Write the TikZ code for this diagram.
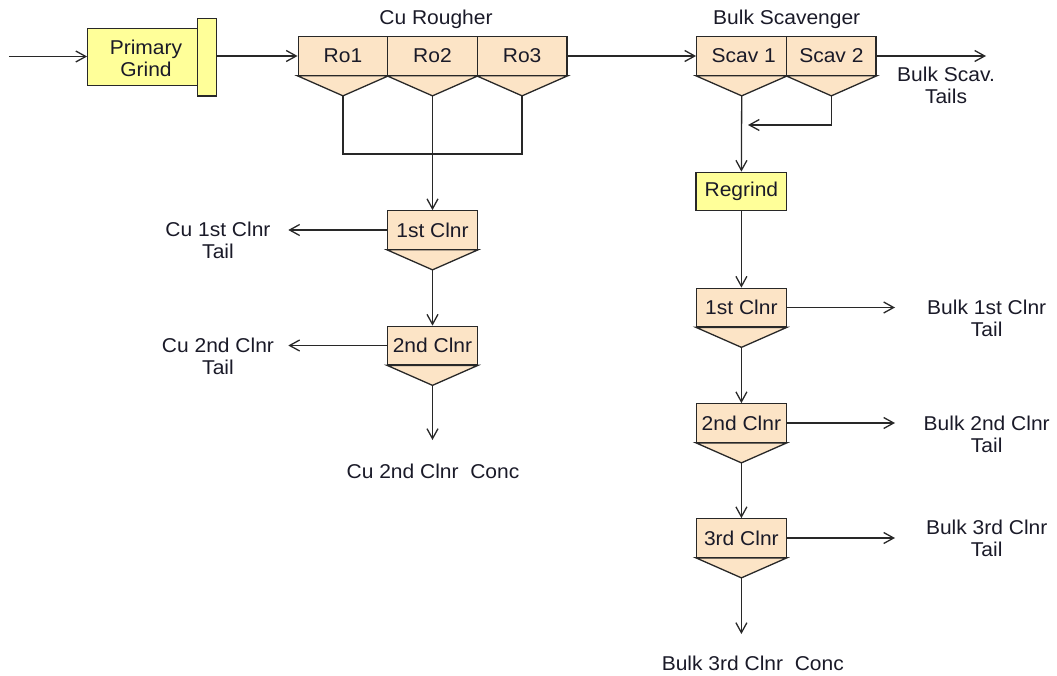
\documentclass[tikz,border=0pt]{standalone}
\usepackage{fontspec}
\setmainfont{Liberation Sans}[FakeStretch=1.05]
\usetikzlibrary{arrows.meta,calc}

\definecolor{cellpeach}{RGB}{252,228,198}
\definecolor{millyellow}{RGB}{255,255,153}
\definecolor{inkline}{RGB}{40,40,40}
\definecolor{inktext}{RGB}{26,26,40}

\tikzset{
  unit/.style={draw=inkline, line width=1.3pt, inner sep=0pt, text=inktext},
  cellbox/.style={unit, fill=cellpeach, minimum width=89.6pt, minimum height=38.4pt},
  millbox/.style={unit, fill=millyellow},
  cellcone/.style={draw=inkline, line width=1.3pt, fill=cellpeach, line join=miter},
  pipe/.style={draw=inkline, line width=1.3pt},
  flow/.style={pipe, -{Straight Barb[length=10pt,width=11pt,line width=1.3pt]}},
  lbl/.style={text=inktext, inner sep=0pt, align=center},
}

% flotation cell: a box with a conical bottom; tip coordinate is <name>t
\newcommand\flotcell[4]{%
  \node[cellbox] (#1) at (#2,#3) {#4};
  \coordinate (#1t) at ($(#1.south)+(0,20)$);
  \filldraw[cellcone] (#1.south west) -- (#1t) -- (#1.south east) -- cycle;
}

\begin{document}
\begin{tikzpicture}[x=1pt,y=-1pt,font=\fontsize{20}{22}\selectfont]
\useasboundingbox (0,0) rectangle (1057,676);

% ---------- primary grinding ----------
\node[millbox, minimum width=109.5pt, minimum height=57pt] (pg) at (142.5,56.8) {};
\node[lbl] (pglbl) at (146,58) {Primary\\Grind};
\node[millbox, minimum width=19.2pt, minimum height=77.7pt] (pgbar) at (206.8,57.2) {};
\coordinate (feed) at (8.9,56.5);
\draw[flow] (feed) -- (feed -| pg.west);

% ---------- Cu rougher bank ----------
\flotcell{ro1}{343.0}{56}{Ro1}
\flotcell{ro2}{432.5}{56}{Ro2}
\flotcell{ro3}{522.1}{56}{Ro3}
\node[lbl, anchor=base] (rolbl) at (436,25) {Cu Rougher};
\draw[flow] (pgbar.east |- ro1.west) -- (ro1.west);

% rougher concentrate collector
\coordinate (coll) at (432.5,154);
\draw[pipe] (ro1t) |- (coll) -| (ro3t);

% ---------- Cu cleaners ----------
\flotcell{cc1}{432.5}{230}{1st Clnr}
\flotcell{cc2}{432.5}{345.5}{2nd Clnr}
\draw[flow] (ro2t) -- (cc1.north);
\draw[flow] (cc1t) -- (cc2.north);

\coordinate (cc1out) at (288.3,230);
\coordinate (cc2out) at (288.3,345.5);
\coordinate (cuconc) at (432.5,440);
\draw[flow] (cc1.west) -- (cc1out);
\draw[flow] (cc2.west) -- (cc2out);
\draw[flow] (cc2t) -- (cuconc);

\node[lbl] (cc1lbl) at (218,240.4) {Cu 1st Clnr\\Tail};
\node[lbl] (cc2lbl) at (218,356.6) {Cu 2nd Clnr\\Tail};
\node[lbl, anchor=base] (cuconclbl) at (433,478) {Cu 2nd Clnr\ \ Conc};

% ---------- bulk scavenger ----------
\node[cellbox, minimum width=90pt] (sc1) at (741.7,56) {\hspace{4pt}Scav 1};
\coordinate (sc1t) at ($(sc1.south)+(0,20)$);
\filldraw[cellcone] (sc1.south west) -- (sc1t) -- (sc1.south east) -- cycle;
\node[cellbox, minimum width=89.3pt] (sc2) at (831.35,56) {Scav 2};
\coordinate (sc2t) at ($(sc2.south)+(0,20)$);
\filldraw[cellcone] (sc2.south west) -- (sc2t) -- (sc2.south east) -- cycle;
\node[lbl, anchor=base] (sclbl) at (786.7,25) {Bulk Scavenger};

\draw[flow] (ro3.east) -- (sc1.west);
\coordinate (sctail) at (986,56);
\draw[flow] (sc2.east) -- (sctail);
\node[lbl] (sctaillbl) at (946,85.4) {Bulk Scav.\\Tails};

\coordinate (scret) at (748,125);
\draw[flow] (sc2t) |- (scret);

% ---------- regrind ----------
\node[millbox, minimum width=90.7pt, minimum height=38.4pt] (rg) at (741.4,191.5) {Regrind};
\draw[flow] (sc1t) -- (rg.north);

% ---------- bulk cleaners ----------
\flotcell{bc1}{741.4}{307.5}{1st Clnr}
\flotcell{bc2}{741.4}{423}{2nd Clnr}
\flotcell{bc3}{741.4}{538}{3rd Clnr}
\draw[flow] (rg.south) -- (bc1.north);
\draw[flow] (bc1t) -- (bc2.north);
\draw[flow] (bc2t) -- (bc3.north);

\coordinate (bc1out) at (895,307.5);
\coordinate (bc2out) at (895,423);
\coordinate (bc3out) at (895,538);
\coordinate (bulkconc) at (741.4,634);
\draw[flow] (bc1.east) -- (bc1out);
\draw[flow] (bc2.east) -- (bc2out);
\draw[flow] (bc3.east) -- (bc3out);
\draw[flow] (bc3t) -- (bulkconc);

\node[lbl] (bc1lbl) at (986.7,318) {Bulk 1st Clnr\\Tail};
\node[lbl] (bc2lbl) at (986.7,434) {Bulk 2nd Clnr\\Tail};
\node[lbl] (bc3lbl) at (986.7,538.6) {Bulk 3rd Clnr\\Tail};
\node[lbl, anchor=base] (bulkconclbl) at (752.8,670.5) {Bulk 3rd Clnr\ \ Conc};

\end{tikzpicture}
\end{document}
